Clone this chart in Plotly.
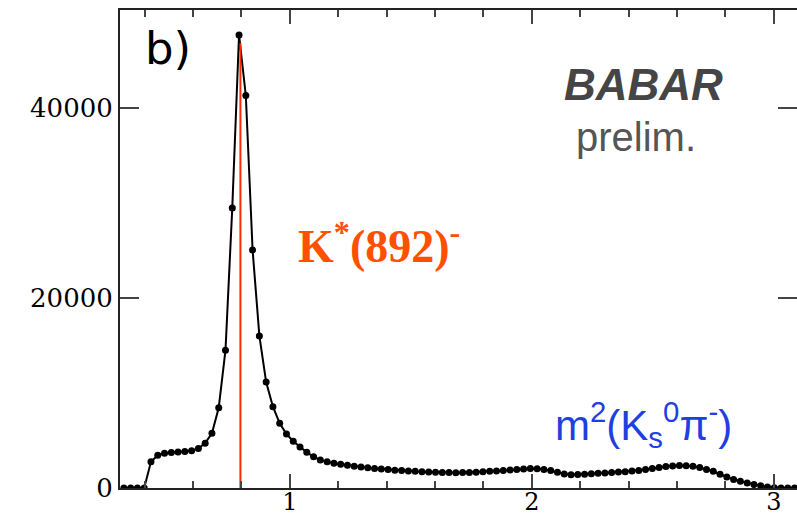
import plotly.graph_objects as go

# Histogram of m^2(K_S^0 pi^-) in GeV^2: 100 bins of width 0.028 from 0.3 to 3.1
bin_lo = 0.3
bin_width = 0.028
counts = [
    0, 0, 0, 0, 2770, 3450, 3650, 3740, 3790, 3850,
    3930, 4150, 4720, 5760, 8450, 14500, 29470, 47680, 41300, 25050,
    16000, 11150, 8560, 6810, 5680, 4920, 4320, 3750, 3300, 2950,
    2750, 2600, 2500, 2400, 2300, 2200, 2130, 2060, 2000, 1940,
    1880, 1830, 1790, 1750, 1720, 1690, 1660, 1640, 1620, 1610,
    1620, 1640, 1670, 1700, 1760, 1800, 1850, 1890, 1950, 2000,
    2050, 2020, 1950, 1850, 1650, 1480, 1400, 1420, 1460, 1500,
    1540, 1580, 1630, 1680, 1720, 1780, 1850, 1950, 2050, 2150,
    2250, 2320, 2370, 2350, 2280, 2150, 1950, 1750, 1450, 1150,
    900, 700, 520, 360, 230, 110, 30, 0, 0, 0,
]
centers = [bin_lo + bin_width * (i + 0.5) for i in range(len(counts))]

# K*(892) nominal mass squared, marked with a vertical line
k_star_mass = 0.892
k_star_m2 = k_star_mass ** 2
marker_top = 46800

x_range = [0.298, 3.096]
y_range = [0, 50300]
y_ticks = [0, 20000, 40000]
x_ticks = [1, 2, 3]

fig = go.Figure()
fig.add_trace(go.Scatter(
    x=centers, y=counts, mode="lines+markers",
    line=dict(color="black", width=2),
    marker=dict(color="black", size=7),
    hoverinfo="skip", showlegend=False,
))
fig.add_trace(go.Scatter(
    x=[k_star_m2, k_star_m2], y=[0, marker_top], mode="lines",
    line=dict(color="#ff2a00", width=2),
    hoverinfo="skip", showlegend=False,
))
# right-hand ticks without a frame line
fig.add_trace(go.Scatter(x=[None], y=[None], yaxis="y2", showlegend=False))

L, R, T, B = 120, 797, 10, 488
W, H = 797, 519


def px(x, y):
    return (x - L) / (R - L), (B - y) / (B - T)


def label(text, x, y, size, color, family, anchor="left"):
    xp, yp = px(x, y)
    fig.add_annotation(
        text=text, x=xp, y=yp, xref="paper", yref="paper",
        xanchor=anchor, yanchor="middle", showarrow=False,
        font=dict(size=size, color=color, family=family),
    )


label("b)", 143, 48, 45, "black", "DejaVu Sans")
label("<b><i>BABAR</i></b>", 562, 84, 44, "#454545", "Liberation Sans")
label("prelim.", 574, 137, 40, "#555555", "Liberation Sans")
label("<b>K<sup>*</sup>(892)<sup>-</sup></b>", 296, 243, 46, "#ff5000",
      "Liberation Serif")
label("m<sup>2</sup>(K<sub>s</sub><sup>0</sup>π<sup>-</sup>)", 553, 424, 42,
      "#1f3fe0", "Liberation Sans")

axis_font = dict(family="DejaVu Serif", size=26, color="black")
x_axis_font = dict(family="DejaVu Serif", size=24, color="black")

fig.update_layout(
    width=W, height=H,
    margin=dict(l=L, r=W - R, t=T, b=H - B),
    paper_bgcolor="white", plot_bgcolor="white",
    xaxis=dict(
        range=x_range, tickvals=x_ticks, ticktext=[str(v) for v in x_ticks],
        ticks="inside", ticklen=14, tickwidth=1.5, tickcolor="#444",
        showline=True, linecolor="#222", linewidth=2, mirror="ticks",
        showgrid=False, zeroline=False, tickfont=x_axis_font,
        automargin=False, ticklabelstandoff=-9,
        minor=dict(dtick=0.2, tick0=0, ticks="inside", ticklen=7,
                   tickwidth=1.5, tickcolor="#444", showgrid=False),
    ),
    yaxis=dict(
        range=y_range, tickvals=y_ticks, ticktext=[str(v) for v in y_ticks],
        ticks="inside", ticklen=19, tickwidth=1.5, tickcolor="#444",
        showline=True, linecolor="#222", linewidth=2, mirror=False,
        showgrid=False, zeroline=False, tickfont=axis_font, automargin=False,
    ),
    yaxis2=dict(
        range=y_range, overlaying="y", side="right", tickvals=y_ticks,
        ticks="inside", ticklen=19, tickwidth=1.5, tickcolor="#444",
        showticklabels=False, showline=False, showgrid=False, zeroline=False,
        automargin=False,
    ),
)

fig.write_html("out.html")
